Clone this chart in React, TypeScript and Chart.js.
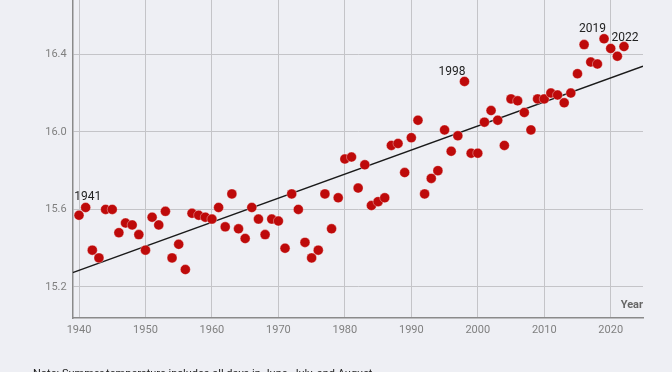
import React, { useEffect, useRef } from "react";
import { Chart, registerables } from "chart.js";

Chart.register(...registerables);

const years: number[] = [];
for (let y = 1940; y <= 2022; y++) years.push(y);

const temps = [
  15.57, 15.61, 15.39, 15.35, 15.6, 15.6, 15.48, 15.53, 15.52, 15.47,
  15.39, 15.56, 15.52, 15.59, 15.35, 15.42, 15.29, 15.58, 15.57, 15.56,
  15.55, 15.61, 15.51, 15.68, 15.5, 15.45, 15.61, 15.55, 15.47, 15.55,
  15.54, 15.4, 15.68, 15.6, 15.43, 15.35, 15.39, 15.68, 15.5, 15.66,
  15.86, 15.87, 15.71, 15.83, 15.62, 15.64, 15.66, 15.93, 15.94, 15.79,
  15.97, 16.06, 15.68, 15.76, 15.8, 16.01, 15.9, 15.98, 16.26, 15.89,
  15.89, 16.05, 16.11, 16.06, 15.93, 16.17, 16.16, 16.1, 16.01, 16.17,
  16.17, 16.2, 16.19, 16.15, 16.2, 16.3, 16.45, 16.36, 16.35, 16.48,
  16.43, 16.39, 16.44,
];

const trendYears = [1939.05, 2024.86];
const trendValues = [15.274, 16.338];

const xTicks = [1940, 1950, 1960, 1970, 1980, 1990, 2000, 2010, 2020];
const yTicks = [15.2, 15.6, 16.0, 16.4];

const labeledYears = [1941, 1998, 2019, 2022];
const labelAlign: Record<number, { align: CanvasTextAlign; dx: number; dy: number }> = {
  1941: { align: "center", dx: 2, dy: -10 },
  1998: { align: "right", dx: 1, dy: -9 },
  2019: { align: "right", dx: 2, dy: -10 },
  2022: { align: "center", dx: 1, dy: -9 },
};

const noteText = "Note: Summer temperature includes all days in June, July, and August.";
const xAxisTitle = "Year";

const FONT = "Roboto, 'Liberation Sans', sans-serif";

export default function App() {
  const ref = useRef<HTMLCanvasElement | null>(null);
  useEffect(() => {
    if (!ref.current) return;
    const annot = {
      id: "annot",
      afterDatasetsDraw(chart: any) {
        const ctx = chart.ctx;
        const xs = chart.scales.x;
        const ys = chart.scales.y;
        ctx.save();
        ctx.font = `12px ${FONT}`;
        ctx.fillStyle = "#222";
        ctx.textBaseline = "middle";
        labeledYears.forEach((yr) => {
          const i = years.indexOf(yr);
          const px = xs.getPixelForValue(yr);
          const py = ys.getPixelForValue(temps[i]);
          const a = labelAlign[yr];
          ctx.textAlign = a.align;
          ctx.fillText(String(yr), px + a.dx, py + a.dy);
        });
        ctx.font = `bold 11px ${FONT}`;
        ctx.fillStyle = "#666";
        ctx.textAlign = "right";
        ctx.fillText(xAxisTitle, chart.chartArea.right, chart.chartArea.bottom - 13);
        ctx.font = `11px ${FONT}`;
        ctx.fillStyle = "#222";
        ctx.textAlign = "left";
        ctx.textBaseline = "alphabetic";
        ctx.fillText(noteText, 33, 377);
        ctx.restore();
      },
    };
    const chart = new Chart(ref.current, {
      type: "scatter",
      data: {
        datasets: [
          {
            type: "line",
            data: trendYears.map((x, i) => ({ x, y: trendValues[i] })),
            borderColor: "#1a1a1a",
            borderWidth: 1.5,
            pointRadius: 0,
            order: 1,
          } as any,
          {
            data: years.map((x, i) => ({ x, y: temps[i] })),
            backgroundColor: "#be0a0a",
            borderColor: "rgba(255,255,255,0.35)",
            borderWidth: 1,
            pointRadius: 5,
            order: 0,
          },
        ],
      },
      options: {
        responsive: false,
        animation: false,
        layout: { autoPadding: false, padding: { left: 0, right: 29, top: 0, bottom: 0 } },
        plugins: { legend: { display: false }, tooltip: { enabled: false } },
        scales: {
          x: {
            type: "linear",
            min: 1939.05,
            max: 2024.86,
            afterBuildTicks: (s: any) => {
              s.ticks = xTicks.map((v) => ({ value: v }));
            },
            afterFit: (s: any) => {
              s.height = 54;
              s.paddingLeft = 0;
              s.paddingRight = 0;
            },
            grid: { color: "#c4c4c8", lineWidth: 1, drawTicks: false },
            border: { color: "#8a8a8a", width: 1.5 },
            ticks: {
              padding: 6,
              color: "#808080",
              font: { family: FONT, size: 11 },
              callback: (v: any) => String(v),
            },
          },
          y: {
            type: "linear",
            min: 15.04,
            max: 16.68,
            afterBuildTicks: (s: any) => {
              s.ticks = yTicks.map((v) => ({ value: v }));
            },
            afterFit: (s: any) => {
              s.width = 72.7;
              s.paddingTop = 0;
              s.paddingBottom = 0;
            },
            grid: { color: "#c4c4c8", lineWidth: 1, drawTicks: false },
            border: { color: "#8a8a8a", width: 1.5 },
            ticks: {
              padding: 6,
              color: "#808080",
              font: { family: FONT, size: 11 },
              callback: (v: any) => Number(v).toFixed(1),
            },
          },
        },
      },
      plugins: [annot],
    });
    return () => chart.destroy();
  }, []);
  return (
    <div
      style={{
        position: "fixed",
        left: 0,
        top: 0,
        width: 672,
        height: 372,
        background: "#eeeff4",
        overflow: "hidden",
      }}
    >
      <canvas ref={ref} width={672} height={372} style={{ display: "block" }} />
    </div>
  );
}
